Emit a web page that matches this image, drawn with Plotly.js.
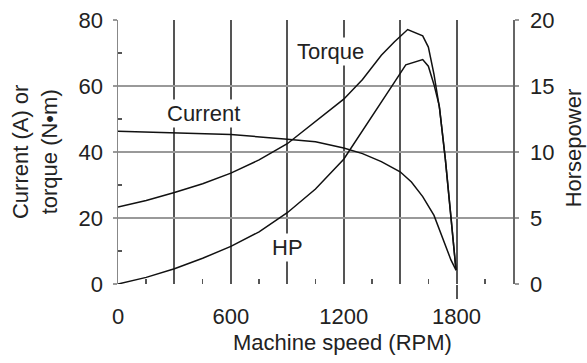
<!DOCTYPE html>
<html>
<head>
<meta charset="utf-8">
<script src="https://cdn.plot.ly/plotly-3.0.1.min.js"></script>
<style>html,body{margin:0;padding:0;background:#fff;}#chart{width:587px;height:363px;}</style>
</head>
<body>
<div id="chart"></div>
<script>
// Machine speed (RPM) sample points and curve values
const torqueRpm = [0,150,300,450,600,750,900,1050,1200,1300,1400,1470,1540,1620,1650,1680,1710,1740,1770,1797];
const torqueNm  = [23.3,25.3,27.7,30.4,33.6,37.6,42.5,49.3,56.0,62.0,69.3,73.4,77.1,75.2,71.8,63.5,53.0,38.0,20.4,4.2];

const hpRpm = [0,150,300,450,600,750,900,1050,1200,1300,1400,1470,1530,1580,1620,1650,1680,1708,1740,1770,1797];
const horsepower = [0,0.5,1.15,1.95,2.85,3.95,5.4,7.2,9.45,11.6,13.7,15.3,16.6,16.85,17.0,16.5,15.1,13.5,9.5,5.1,1.05];

const currentRpm = [0,300,600,900,1050,1200,1300,1400,1500,1560,1620,1680,1735,1770,1797];
const currentA   = [46.3,45.9,45.3,43.9,43.1,41.2,39.5,37.1,34.0,30.9,26.5,20.8,12.2,7.3,4.2];

const xGridVals  = [0,300,600,900,1200,1500,1800,2100];
const xTickText  = ['0','','600','','1200','','1800',''];
const xMinorVals = [150,450,750,1050,1350,1650,1950];
const yLeftTicks = [0,20,40,60,80];
const yLeftMinor = [10,30,50,70];
const yRightTicks = [0,5,10,15,20];

const FONT = 'Liberation Sans, Arial, Helvetica, sans-serif';
const FS = 22;
const TXT = '#222';
const lineStyle = {color:'#111', width:1.5};

const traces = [
  {x: torqueRpm, y: torqueNm, xaxis:'x', yaxis:'y', mode:'lines', line: lineStyle, hoverinfo:'skip', name:'Torque'},
  {x: hpRpm, y: horsepower, xaxis:'x', yaxis:'y2', mode:'lines', line: lineStyle, hoverinfo:'skip', name:'HP'},
  {x: currentRpm, y: currentA, xaxis:'x3', yaxis:'y', mode:'lines', line: lineStyle, hoverinfo:'skip', name:'Current'}
];

const layout = {
  width:587, height:363,
  margin:{l:118, r:74, t:20, b:79},
  paper_bgcolor:'#fff', plot_bgcolor:'#fff',
  showlegend:false,
  font:{family:FONT, size:FS, color:TXT},
  xaxis:{
    range:[0,2100], tickmode:'array', tickvals:xGridVals, ticktext:xTickText,
    ticks:'', showgrid:true, gridcolor:'#555', gridwidth:2,
    showline:false, zeroline:false, ticklabelstandoff:17,
    tickfont:{family:FONT, size:FS, color:TXT},
    minor:{tickmode:'array', tickvals:xMinorVals, ticks:'inside', ticklen:5, tickcolor:'#555', tickwidth:1.5, showgrid:false}
  },
  xaxis3:{
    overlaying:'x', anchor:'y', range:[0,2100], tickmode:'array', tickvals:[1800],
    ticks:'outside', ticklen:14, tickcolor:'#555', tickwidth:2,
    showticklabels:false, showgrid:false, zeroline:false, showline:false
  },
  yaxis:{
    range:[0,80], tickmode:'array', tickvals:yLeftTicks,
    ticks:'outside', ticklen:4, tickcolor:'#999', tickwidth:2,
    showgrid:true, gridcolor:'#999', gridwidth:2,
    showline:true, linecolor:'#888', linewidth:1.5, zeroline:false,
    ticklabelstandoff:5,
    tickfont:{family:FONT, size:FS, color:TXT},
    minor:{tickmode:'array', tickvals:yLeftMinor, ticks:'inside', ticklen:4, tickcolor:'#555', tickwidth:1.5, showgrid:false}
  },
  yaxis2:{
    overlaying:'y', side:'right', anchor:'x', range:[0,20], tickmode:'array', tickvals:yRightTicks,
    ticks:'outside', ticklen:4, tickcolor:'#999', tickwidth:2,
    showgrid:false, showline:true, linecolor:'#666', linewidth:1.5, zeroline:false,
    ticklabelstandoff:7,
    tickfont:{family:FONT, size:FS, color:TXT}
  },
  annotations:[
    {xref:'x', yref:'y', x:1128, y:70.6, text:'Torque', showarrow:false, bgcolor:'#fff', font:{family:FONT, size:FS, color:TXT}},
    {xref:'x', yref:'y', x:456, y:51.6, text:'Current', showarrow:false, bgcolor:'#fff', font:{family:FONT, size:FS, color:TXT}},
    {xref:'x', yref:'y', x:900, y:11.2, text:'HP', showarrow:false, bgcolor:'#fff', font:{family:FONT, size:FS, color:TXT}},
    {xref:'paper', yref:'paper', x:0.568, y:-0.222, text:'Machine speed (RPM)', showarrow:false, xanchor:'center', yanchor:'middle', font:{family:FONT, size:FS, color:TXT}},
    {xref:'paper', yref:'paper', x:-0.21, y:0.5, text:'Current (A) or<br>torque (N•m)', textangle:-90, showarrow:false, xanchor:'center', yanchor:'middle', font:{family:FONT, size:FS, color:TXT}},
    {xref:'paper', yref:'paper', x:1.152, y:0.514, text:'Horsepower', textangle:-90, showarrow:false, xanchor:'center', yanchor:'middle', font:{family:FONT, size:FS, color:TXT}}
  ]
};

Plotly.newPlot('chart', traces, layout, {staticPlot:true, displayModeBar:false});
</script>
</body>
</html>
